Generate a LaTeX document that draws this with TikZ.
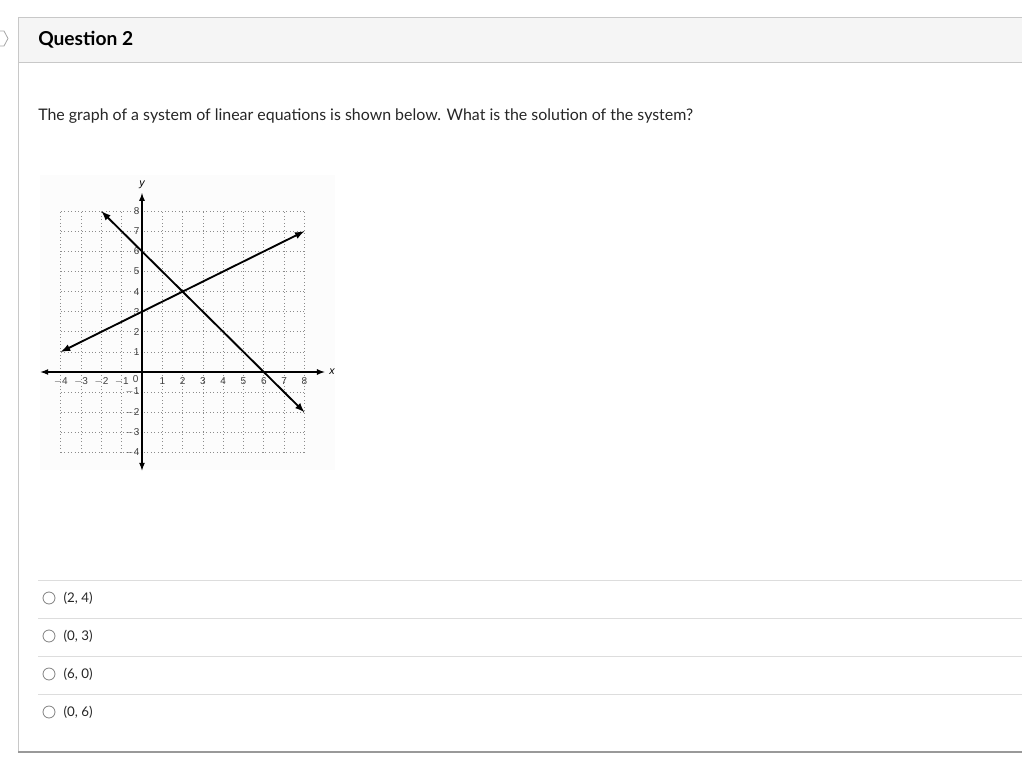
\documentclass[tikz,border=0pt]{standalone}
\usepackage{fontspec}
\setmainfont{Lato}
\newfontfamily\graphfont{Liberation Sans}
\usetikzlibrary{positioning}
\definecolor{hdrfill}{HTML}{F5F5F5}
\definecolor{hdrline}{HTML}{C8C8C8}
\definecolor{sepline}{HTML}{DDDDDD}

\begin{document}
\begin{tikzpicture}[x=0.75pt,y=-0.75pt,
	sep/.style={draw=sepline,line width=0.75pt},
	radio/.style={circle,draw=black!50,line width=0.6pt,minimum size=9pt,inner sep=0pt},
	opt/.style={font=\fontsize{10}{12}\selectfont,text=black!85,inner sep=0pt},
	tick/.style={font=\graphfont\fontsize{7.5}{8}\selectfont,text=black!75,inner sep=1pt}]
	\useasboundingbox (0,0) rectangle (1022,782);

	\fill[hdrfill] (18,17) rectangle (1022,62);
	\draw[hdrline,line width=0.75pt] (1022,17) -- (18,17) -- (18,752);
	\draw[hdrline,line width=0.75pt] (18,62) -- (1022,62);
	\draw[black!40,line width=1pt] (1022,752) -- (18,752);
	\draw[black!35,line width=0.6pt] (0,31) -- (4,31) -- (8,38.5) -- (4,46) -- (0,46);

	\node[anchor=base west,inner sep=0pt,font=\bfseries\fontsize{14.4}{17}\selectfont] (qtitle) at (38,45) {Question 2};
	\node[anchor=base west,inner sep=0pt,font=\fontsize{11.95}{14}\selectfont,text=black!85] (prompt) at (38,120)
		{The graph of a system of linear equations is shown below. What is the solution of the system?};

	\fill[black!1] (40,175) rectangle (335,470);
	\begin{scope}[shift={(142,372)},x=15.225pt,y=15.075pt]
		\draw[black!45,dotted,line width=0.6pt,step={(1,1)}] (-4,-4) grid (8,8);
		\draw[-latex,line width=1pt] (0,0) -- (9,0);
		\draw[-latex,line width=1pt] (0,0) -- (-5,0);
		\draw[-latex,line width=1pt] (0,0) -- (0,8.9);
		\draw[-latex,line width=1pt] (0,0) -- (0,-4.9);
		\node[font=\graphfont\itshape\fontsize{8}{9}\selectfont,right] (xlab) at (9,0) {x};
		\node[font=\graphfont\itshape\fontsize{8}{9}\selectfont,above] (ylab) at (0,8.9) {y};
		\foreach \k in {1,...,8}
			\node[tick,below] (xt\k) at (\k,-0.2) {\k};
		\foreach \k in {1,...,4}
			\node[tick,below] (xn\k) at (-\k,-0.2) {$-$\k};
		\foreach \k in {1,...,8}
			\node[tick,left] (yt\k) at (-0.05,\k) {\k};
		\foreach \k in {1,...,4}
			\node[tick,left] (yn\k) at (-0.05,-\k) {$-$\k};
		\node[tick,anchor=south east] (orig) at (-0.1,-0.6) {0};

		\coordinate (lineAs) at (-4,1);
		\coordinate (lineAe) at (8,7);
		\coordinate (lineBs) at (-2,8);
		\coordinate (lineBe) at (8,-2);
		\draw[latex-latex,line width=1.4pt] (lineAs) -- (lineAe);
		\draw[latex-latex,line width=1.4pt] (lineBs) -- (lineBe);
	\end{scope}

	\draw[sep] (38,580) -- (1022,580);
	\draw[sep] (38,618) -- (1022,618);
	\draw[sep] (38,656) -- (1022,656);
	\draw[sep] (38,694) -- (1022,694);

	\node[radio] (r1) at (49,598) {};
	\node[radio] (r2) at (49,636) {};
	\node[radio] (r3) at (49,674) {};
	\node[radio] (r4) at (49,712) {};
	\node[opt,right=6pt of r1] (o1) {(2, 4)};
	\node[opt,right=6pt of r2] (o2) {(0, 3)};
	\node[opt,right=6pt of r3] (o3) {(6, 0)};
	\node[opt,right=6pt of r4] (o4) {(0, 6)};
\end{tikzpicture}
\end{document}
